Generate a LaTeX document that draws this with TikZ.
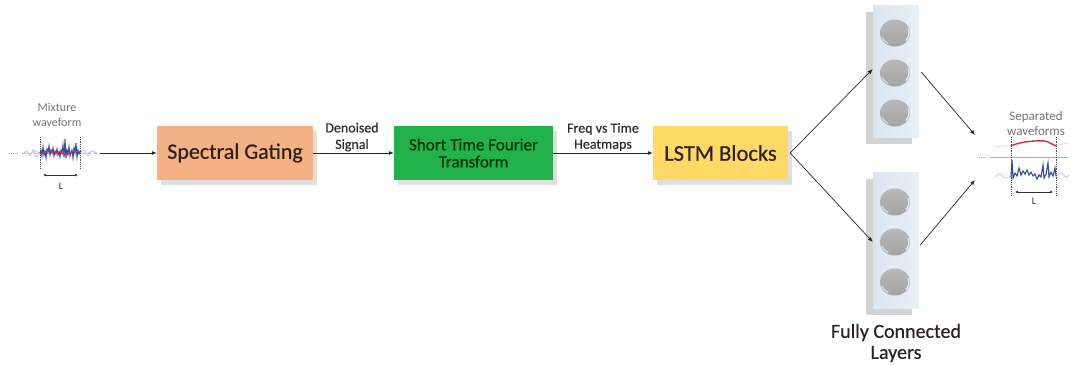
\documentclass[tikz,border=0pt]{standalone}
\usepackage{fontspec}
\setmainfont{Carlito}
\newfontface\heavy{Carlito}[FakeBold=0.5]
\usetikzlibrary{shadows,arrows.meta,shapes.geometric}
\definecolor{sgfill}{HTML}{F4B183}
\definecolor{stftfill}{HTML}{22B24C}
\definecolor{lstmfill}{HTML}{FFD966}
\definecolor{txtdark}{HTML}{2B2220}
\definecolor{lbl}{HTML}{2E2E2E}
\definecolor{colfill}{HTML}{D9E6F2}
\definecolor{wblue}{HTML}{2F4FA0}
\definecolor{wred}{HTML}{D0304A}
\tikzset{
  blockbox/.style={draw=none, minimum height=54pt, text=txtdark, align=center,
    drop shadow={shadow xshift=4pt, shadow yshift=-5pt, opacity=.25, fill=gray}},
  conn/.style={-{Latex[length=5pt,width=4pt]}, draw=black!85, line width=0.7pt},
  fccol/.style={draw=none, minimum width=46pt, left color=colfill, right color=colfill!60!white,
    drop shadow={shadow xshift=-7pt, shadow yshift=-7pt, opacity=.35, fill=gray}},
  neuron/.style={ellipse, inner sep=0pt, minimum width=30pt, minimum height=27pt, top color=gray!55, bottom color=gray!72, draw=none},
  lbltext/.style={text=lbl, align=center, inner sep=0pt},
  vdot/.style={densely dotted, line width=0.8pt, black!70},
}
\begin{document}
\begin{tikzpicture}[x=1pt,y=-1pt]
\useasboundingbox (0,0) rectangle (1072,365);

% Blocks
\node[blockbox, fill=sgfill, minimum width=156pt, font=\heavy\fontsize{22}{24}\selectfont] (sg) at (235,153) {Spectral Gating};
\node[blockbox, fill=stftfill, minimum width=159pt, font=\heavy\fontsize{17}{17}\selectfont, text=black!80!green] (stft) at (473.5,153) {Short Time Fourier\\Transform};
\node[blockbox, fill=lstmfill, minimum width=135pt, font=\heavy\fontsize{22.5}{24}\selectfont] (lstm) at (720.5,153) {LSTM Blocks};

% FC columns
\node[fccol, minimum height=132pt] (fc1) at (896,71) {};
\node[fccol, minimum height=136pt] (fc2) at (896,240) {};
\foreach \n/\y in {a/33,b/73,c/113,d/202,e/242,f/282}{
  \node[neuron] (n\n) at (895,\y) {};
  \draw[white, line width=1.2pt, opacity=.8] (n\n.center) ++(-40:14pt and 12pt) arc[start angle=-40, end angle=20, x radius=14pt, y radius=12pt];
  \draw[white, line width=1pt, opacity=.7] (n\n.center) ++(200:14pt and 12pt) arc[start angle=200, end angle=240, x radius=14pt, y radius=12pt];
}

% Labels
\node[lbltext, font=\heavy\fontsize{14}{16.5}\selectfont] (dlbl) at (352,137) {Denoised\\Signal};
\node[lbltext, font=\heavy\fontsize{14}{16}\selectfont] (flbl) at (603,137) {Freq vs Time\\Heatmaps};
\node[lbltext, font=\heavy\fontsize{20}{21}\selectfont, text=txtdark] (fclbl) at (896,343) {Fully Connected\\Layers};
\node[lbltext, font=\fontsize{12}{15}\selectfont, text=gray!90!black] (mixlbl) at (57,115) {Mixture\\waveform};
\node[lbltext, font=\fontsize{13}{15}\selectfont, text=gray!90!black] (seplbl) at (1036,124) {Separated\\waveforms};

% Mixture waveform
\draw[gray!60, dashed, line width=0.5pt] (22,153) -- (100,153);
\draw[gray!70, densely dotted, line width=0.9pt] (9,153) -- (18,153);
\draw[blue!30, line width=0.6pt] plot[smooth] coordinates {(24,153) (27,151) (30,156) (33,150) (36,157) (40,152)};
\draw[red!30, line width=0.6pt] plot[smooth] coordinates {(24,152) (30,154) (35,151) (40,154)};
\draw[blue!30, line width=0.6pt] plot[smooth] coordinates {(80,153) (84,150) (88,156) (92,151) (96,154)};
\draw[red!30, line width=0.6pt] plot[smooth] coordinates {(80,152) (86,154) (92,151) (97,153)};
\draw[wblue, line width=1pt] plot coordinates {(40,153) (41,150) (42,156) (43,147) (44,155) (45,151) (46,158) (47,149) (48,152) (49,146) (50,155) (51,150) (52,153) (53,148) (54,156) (55,151) (56,154) (57,149) (58,155) (59,152) (60,157) (61,150) (62,153) (63,145) (64,157) (65,139) (66,158) (67,150) (68,154) (69,147) (70,156) (71,152) (72,150) (73,158) (74,148) (75,153) (76,143) (77,157) (78,150) (79,154) (80,152)};
\draw[wred, line width=1.3pt] plot[smooth] coordinates {(40,154) (45,152) (50,151) (55,153) (60,152) (65,155) (70,153) (75,151) (80,152)};
\draw[vdot] (40,137) -- (40,169);
\draw[vdot] (80,137) -- (80,169);
\draw[{Latex[length=3pt,width=3pt]}-{Latex[length=3pt,width=3pt]}, black!80, line width=0.6pt] (43,175) -- (78,175);
\node[lbltext, font=\fontsize{10}{11}\selectfont] (mixLt) at (61,186) {L};
\coordinate (mixout) at (100,153);

% Separated waveforms
\draw[red!25, line width=0.7pt] plot[smooth] coordinates {(995,147) (1003,146) (1011,146)};
\draw[red!25, line width=0.7pt] plot[smooth] coordinates {(1056,146) (1062,144) (1068,143)};
\draw[wred, line width=1.4pt] plot[smooth] coordinates {(1011,146) (1016,144) (1025,142) (1035,141) (1045,141) (1050,143) (1056,146)};
\draw[gray!60, line width=0.5pt] (990,157) -- (1068,157);
\draw[gray!70, densely dotted, line width=0.9pt] (979,157) -- (986,157);
\draw[blue!25, line width=0.8pt] plot[smooth] coordinates {(995,177) (1000,174) (1005,178) (1011,176)};
\draw[blue!25, line width=0.8pt] plot[smooth] coordinates {(1056,176) (1061,173) (1066,177) (1069,175)};
\draw[wblue, line width=1.1pt] plot coordinates {(1011,177) (1012,160) (1013,178) (1015,173) (1017,176) (1019,168) (1021,175) (1023,171) (1025,174) (1027,170) (1029,175) (1031,172) (1033,176) (1035,174) (1037,179) (1039,175) (1041,177) (1043,165) (1044,178) (1046,174) (1048,163) (1049,177) (1051,172) (1053,176) (1055,168) (1056,176)};
\draw[vdot] (1011,137) -- (1011,195);
\draw[vdot] (1056,137) -- (1056,195);
\draw[{Latex[length=3pt,width=3pt]}-{Latex[length=3pt,width=3pt]}, black!80, line width=0.6pt] (1015,192) -- (1053,192);
\node[lbltext, font=\fontsize{10}{11}\selectfont] (sepLt) at (1034,201) {L};
\coordinate (sepin1) at (975,135);
\coordinate (sepin2) at (975,180);

% Connectors
\draw[conn] (mixout) -- (sg.west);
\draw[conn] (sg.east) -- (stft.west);
\draw[conn] (stft.east) -- (lstm.west);
\coordinate (lstmout) at ([xshift=2pt]lstm.east);
\draw[conn] (lstmout) -- ([yshift=2pt]fc1.west);
\draw[conn] (lstmout) -- ([yshift=-2pt]fc2.west);
\draw[conn] ([xshift=2pt,yshift=-1pt]fc1.east) -- (sepin1);
\draw[conn] ([xshift=1pt,yshift=-5pt]fc2.east) -- (sepin2);
\end{tikzpicture}
\end{document}
